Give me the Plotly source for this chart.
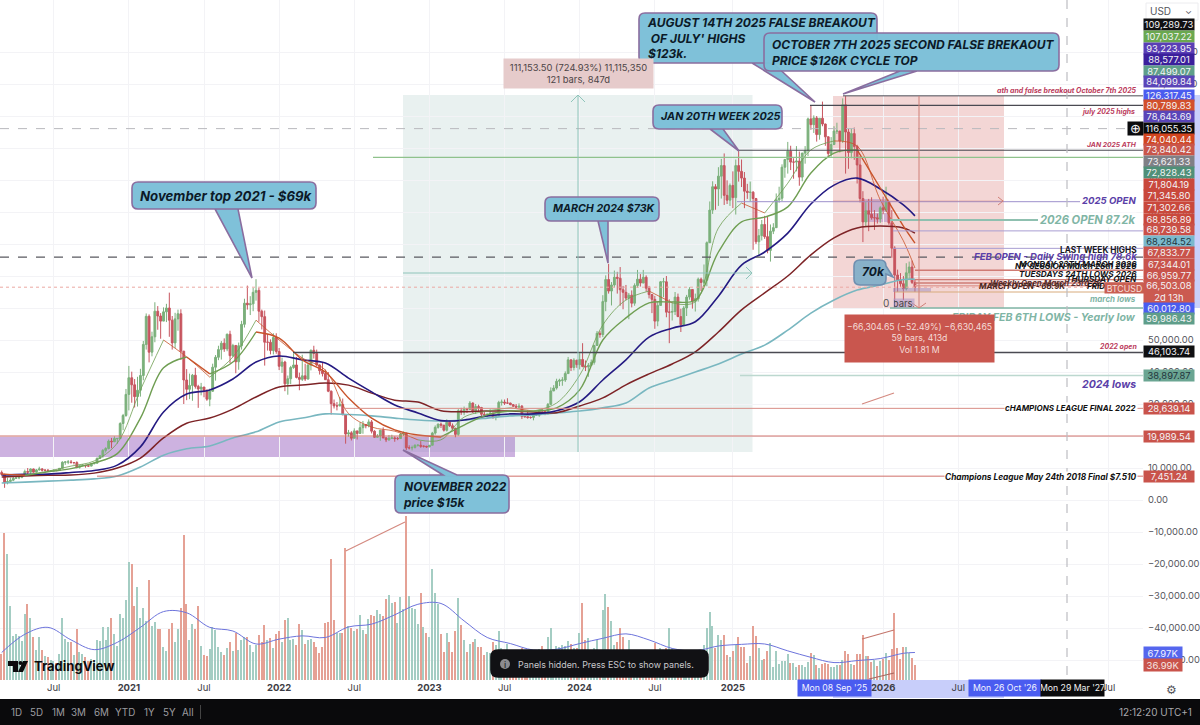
import pandas as pd
import plotly.graph_objects as go

W, H = 1200, 725
PLOT_R, PLOT_B = 1143, 680

# weekly candles in thousands of USD, first week Mon 2 Mar 2020
FIRST_OPEN = 8.6
CLOSES = [
    8.0, 5.4, 5.8, 6.2, 6.8, 6.9, 7.1, 7.7, 8.9, 8.7, 9.7, 8.7, 9.4, 9.7, 9.3, 9.3, 9.0, 9.1, 9.3, 9.2, 9.9, 11.8,
    11.9, 11.9, 11.7, 11.7, 10.3, 10.7, 10.9, 10.7, 10.6, 11.3, 11.5, 13.0, 13.8, 15.5, 16.1, 18.4, 18.2, 19.2, 19.2,
    23.9, 26.4, 33.0,
    38.2, 36.0, 32.3, 34.3, 38.9, 48.6, 57.4, 46.2, 51.0, 59.0, 57.5, 55.9, 58.8, 60.0, 56.2, 49.1, 56.6, 58.2, 46.5,
    37.5, 34.6, 35.8, 39.0, 35.5, 34.7, 35.3, 34.2, 31.5, 34.0, 41.5, 44.6, 47.0, 49.0, 47.2, 51.8, 45.1, 48.3, 43.2,
    48.2, 54.9, 61.5, 61.0, 61.3, 64.9, 65.5, 59.0, 57.3, 49.3, 49.3, 46.7, 50.8, 46.4,
    41.8, 43.1, 36.3, 37.9, 41.4, 42.2, 38.3, 37.7, 38.8, 37.8, 42.2, 46.8, 45.8, 42.2, 40.4, 39.5, 37.6, 34.0, 30.1,
    29.4, 29.4, 29.9, 26.6, 20.6, 21.0, 19.3, 21.6, 20.8, 22.6, 23.6, 23.2, 24.4, 21.5, 19.6, 20.0, 21.8, 19.4, 18.8,
    19.3, 19.4, 19.2, 19.2, 20.6, 20.9, 16.3, 16.3, 16.4, 17.1, 17.1, 16.8, 16.8, 16.6,
    17.1, 20.9, 22.7, 23.7, 23.4, 21.8, 24.3, 23.2, 22.4, 20.5, 27.9, 27.5, 28.4, 28.3, 30.3, 27.6, 29.2, 28.9, 26.8,
    26.7, 26.8, 27.1, 25.8, 26.3, 30.5, 30.6, 30.3, 30.3, 29.8, 29.3, 29.0, 29.3, 26.1, 26.0, 25.8, 25.8, 26.5, 26.5,
    28.0, 27.9, 26.9, 29.9, 34.1, 35.0, 37.1, 37.4, 37.5, 39.5, 43.8, 41.4, 43.7, 42.3,
    43.9, 41.7, 41.6, 42.1, 43.0, 48.3, 52.1, 51.7, 62.0, 68.9, 65.3, 67.2, 69.6, 69.3, 65.7, 64.9, 63.1, 64.0, 61.5,
    67.0, 69.0, 67.8, 69.6, 66.2, 64.2, 62.7, 55.9, 60.8, 68.2, 68.2, 58.7, 58.7, 58.9, 63.4, 57.3, 54.8, 60.0, 63.4,
    65.8, 62.1, 62.9, 69.0, 68.0, 68.7, 80.4, 90.6, 97.9, 97.2, 101.2, 104.5, 95.2, 93.7, 98.3,
    94.5, 104.5, 102.7, 100.6, 96.5, 96.1, 96.2, 94.2, 80.7, 82.6, 86.1, 82.3, 78.0, 84.0, 85.1, 93.8, 94.3, 104.0,
    106.4, 109.0, 105.6, 105.6, 105.9, 100.9, 108.4, 109.2, 119.1, 117.3, 119.4, 114.2, 119.3, 117.5, 113.5, 108.3,
    111.1, 115.3, 115.3, 112.2, 123.5, 115.0, 108.6, 114.5, 110.5, 104.7, 94.2, 86.9, 90.4, 89.3, 88.2, 88.2, 87.8, 91.3,
    90.6, 93.2, 86.6, 78.7, 70.3, 68.8, 67.6, 66.0, 71.0, 72.8, 68.0, 66.5,
]
HIGHS = [
    9.2, 8.2, 7.0, 7.0, 7.3, 7.4, 7.3, 7.8, 9.5, 10.0, 9.9, 9.8, 9.7, 10.4, 10.0, 9.6, 9.7, 9.3, 9.5, 9.3, 10.0, 12.1,
    12.0, 12.5, 12.5, 11.8, 12.1, 10.8, 11.2, 10.9, 10.9, 11.5, 11.7, 13.3, 14.1, 15.9, 16.5, 18.9, 19.4, 19.9, 19.4,
    24.3, 26.9, 34.7,
    41.9, 40.1, 37.8, 38.5, 41.0, 49.7, 58.3, 58.0, 52.6, 61.8, 60.6, 58.4, 60.2, 61.3, 64.8, 57.5, 58.5, 59.5, 59.6,
    46.6, 40.9, 39.5, 39.4, 41.3, 36.0, 36.6, 35.1, 34.6, 34.8, 42.6, 45.3, 48.2, 49.7, 50.5, 52.0, 52.9, 48.8, 48.0,
    49.2, 56.0, 62.9, 67.0, 63.7, 66.3, 69.0, 66.3, 59.5, 59.2, 51.9, 50.2, 52.1, 52.1,
    47.5, 44.5, 43.5, 38.9, 41.9, 45.8, 44.7, 39.8, 45.4, 42.6, 42.4, 47.0, 48.2, 47.0, 42.4, 42.9, 40.8, 40.0, 34.2,
    31.4, 30.6, 32.2, 31.7, 26.9, 21.9, 21.5, 22.4, 21.6, 24.3, 24.7, 23.4, 25.2, 25.0, 21.8, 20.6, 21.9, 22.7, 19.7,
    20.3, 20.4, 19.9, 19.7, 21.0, 21.4, 21.0, 17.1, 17.0, 17.4, 17.4, 18.4, 17.0, 16.9,
    17.2, 21.3, 23.3, 23.9, 24.2, 23.4, 25.2, 25.0, 23.9, 22.6, 28.4, 28.8, 29.2, 28.8, 30.9, 30.5, 30.0, 29.8, 29.1,
    27.6, 27.0, 28.4, 27.3, 26.7, 31.0, 31.4, 31.4, 31.8, 30.4, 30.0, 30.0, 30.2, 29.7, 26.8, 28.1, 26.1, 26.9, 27.5,
    28.0, 28.6, 28.0, 30.3, 35.2, 35.9, 37.9, 37.9, 38.4, 40.2, 44.7, 43.6, 44.3, 43.8,
    45.9, 49.0, 43.6, 42.8, 43.9, 48.5, 52.8, 52.9, 64.0, 70.2, 73.8, 68.1, 71.7, 71.3, 72.8, 66.9, 67.2, 64.7, 65.5,
    67.7, 71.9, 70.6, 71.9, 70.2, 66.9, 63.4, 63.8, 62.0, 68.4, 69.4, 70.0, 62.7, 62.0, 65.0, 64.5, 59.8, 60.6, 64.1,
    66.5, 65.6, 64.5, 69.5, 69.5, 73.6, 80.8, 93.3, 99.6, 98.7, 104.0, 106.6, 108.3, 99.9, 98.9,
    102.7, 106.4, 109.3, 106.4, 102.5, 98.8, 99.5, 96.5, 94.4, 84.7, 87.5, 88.8, 88.5, 86.1, 86.5, 95.8, 97.9, 104.9,
    106.6, 111.9, 110.7, 106.8, 110.6, 108.9, 108.5, 110.6, 119.5, 123.2, 120.2, 120.0, 119.3, 124.5, 117.6, 113.6,
    113.4, 116.8, 117.9, 113.4, 125.5, 126.2, 116.0, 116.1, 116.4, 111.0, 107.5, 96.5, 93.1, 94.1, 94.6, 90.6, 89.5, 91.8,
    94.8, 97.9, 93.4, 90.6, 79.3, 72.0, 70.9, 70.0, 74.0, 74.5, 74.8, 69.0,
]
LOWS = [
    7.6, 3.8, 4.9, 5.7, 5.9, 6.7, 6.5, 6.8, 7.6, 8.1, 8.2, 8.6, 8.6, 9.2, 8.9, 9.0, 8.8, 8.9, 9.0, 9.0, 9.1, 9.9,
    11.0, 11.2, 11.4, 11.1, 9.9, 9.8, 10.6, 10.1, 10.3, 10.5, 11.2, 11.4, 12.8, 13.2, 14.8, 15.8, 16.2, 18.1, 17.6,
    19.0, 21.8, 26.0,
    28.0, 30.4, 28.9, 29.2, 32.3, 37.4, 47.0, 43.0, 44.9, 49.3, 53.2, 50.4, 55.9, 55.6, 51.0, 47.0, 47.5, 52.9, 43.8,
    30.0, 31.2, 31.5, 31.0, 34.8, 28.8, 32.7, 32.1, 31.0, 29.3, 33.8, 37.3, 43.7, 43.9, 46.3, 46.5, 42.8, 44.7, 39.6,
    40.7, 47.0, 53.9, 59.5, 57.8, 59.0, 62.3, 55.7, 53.3, 42.0, 46.7, 45.5, 45.5, 45.7,
    40.6, 39.7, 34.0, 32.9, 36.2, 41.0, 38.0, 34.3, 37.2, 37.2, 37.6, 40.5, 44.2, 41.8, 39.2, 38.6, 37.5, 33.7, 26.7,
    28.6, 28.0, 29.3, 26.6, 17.6, 19.8, 18.6, 19.3, 18.9, 20.7, 20.7, 22.4, 22.7, 20.8, 19.5, 19.5, 18.5, 19.3, 18.1,
    18.5, 19.1, 18.2, 18.7, 19.2, 20.0, 15.6, 15.8, 15.5, 16.1, 16.7, 16.3, 16.4, 16.3,
    16.5, 17.1, 20.4, 22.3, 22.5, 21.4, 21.4, 22.8, 21.9, 19.6, 20.1, 26.6, 26.5, 27.2, 28.2, 27.2, 26.9, 27.7, 25.9,
    26.4, 25.9, 26.6, 25.4, 24.9, 26.2, 29.5, 29.7, 30.0, 29.6, 29.1, 28.6, 28.7, 25.3, 25.8, 25.4, 25.4, 24.9, 26.4,
    26.0, 27.2, 26.5, 26.9, 29.7, 34.0, 34.5, 35.6, 35.7, 36.9, 39.4, 40.3, 40.5, 41.3,
    40.8, 41.5, 40.3, 38.5, 41.9, 42.3, 48.2, 50.7, 50.9, 59.0, 64.5, 60.8, 66.4, 64.5, 60.7, 59.6, 62.4, 56.5, 60.2,
    60.7, 66.3, 66.7, 68.5, 65.1, 63.0, 58.4, 53.5, 54.3, 62.4, 63.4, 57.1, 49.0, 56.1, 57.8, 57.2, 52.5, 54.6, 57.5,
    62.6, 59.8, 58.9, 62.0, 65.3, 67.5, 66.8, 80.3, 89.4, 90.7, 91.9, 94.2, 92.2, 92.5, 91.9,
    91.2, 89.2, 99.5, 97.8, 91.2, 94.1, 93.3, 78.2, 80.0, 76.6, 81.1, 81.6, 77.1, 74.5, 83.1, 85.1, 92.9, 93.4,
    100.7, 102.0, 103.1, 100.4, 102.7, 98.2, 99.6, 105.1, 107.5, 115.7, 114.7, 112.0, 112.6, 116.8, 110.7, 107.3,
    107.3, 110.9, 114.4, 108.6, 111.6, 102.0, 103.5, 106.8, 106.3, 98.9, 93.0, 80.6, 85.5, 84.0, 87.6, 84.4, 86.4, 86.6,
    89.3, 90.1, 86.0, 75.7, 60.0, 65.0, 66.6, 62.5, 65.5, 69.0, 67.5, 65.0,
]
# weekly volume, thousands of BTC
VOLUMES = [
    64, 363, 310, 183, 109, 113, 109, 97, 162, 188, 154, 107, 74, 105, 74, 60, 57, 49, 48, 43,
    64, 154, 101, 95, 93, 62, 125, 68, 64, 56, 48, 52, 48, 99, 97, 130, 98, 131, 152, 113,
    84, 164, 152, 197, 292, 287, 182, 230, 154, 179, 146, 246, 133, 144, 125, 125, 82, 71, 125, 141,
    94, 125, 179, 358, 187, 98, 138, 125, 182, 84, 62, 60, 76, 131, 123, 82, 70, 62, 79, 95,
    72, 117, 74, 98, 105, 107, 87, 70, 87, 111, 95, 136, 98, 103, 80, 113, 121, 95, 149, 152,
    98, 101, 87, 139, 123, 90, 98, 101, 95, 82, 67, 82, 142, 144, 298, 149, 115, 115, 117, 325,
    134, 128, 120, 126, 160, 123, 113, 150, 161, 158, 173, 164, 158, 199, 210, 189, 193, 142, 205, 175,
    405, 207, 177, 175, 139, 214, 131, 117, 107, 275, 216, 187, 113, 70, 115, 93, 70, 120, 202, 136,
    98, 68, 89, 95, 102, 82, 82, 62, 70, 66, 95, 86, 122, 78, 60, 89, 60, 60, 55, 50,
    78, 55, 55, 60, 60, 60, 76, 84, 55, 105, 128, 65, 84, 82, 86, 84, 96, 90, 78, 80,
    115, 189, 99, 104, 70, 80, 99, 70, 173, 212, 181, 146, 86, 95, 128, 107, 70, 99, 70, 65,
    60, 60, 55, 55, 65, 70, 92, 60, 78, 65, 80, 128, 80, 70, 65, 60, 55, 60, 60, 60,
    60, 60, 65, 86, 129, 169, 134, 78, 111, 100, 111, 62, 56, 72, 89, 105, 81, 81, 41, 59,
    133, 109, 78, 49, 52, 71, 92, 33, 72, 40, 48, 47, 63, 41, 43, 33, 36, 36, 31, 44,
    66, 61, 37, 30, 40, 41, 39, 33, 33, 36, 38, 49, 72, 63, 40, 36, 64, 64, 111, 59,
    60, 45, 49, 35, 47, 53, 67, 49, 76, 166, 78, 52, 82, 81, 67, 55, 36,
]
assert len(CLOSES) == len(HIGHS) == len(LOWS) == len(VOLUMES) == 317

# moving averages every eighth week, then the last bar
MA_WEEKS = list(range(0, 317, 8)) + [316]
MA_THIN = [
    8.1, 7.8, 9.0, 10.6, 12.2, 17.8, 34.4, 50.0, 44.7, 38.4, 44.7, 56.2, 50.0, 44.4, 40.6, 27.0, 22.8, 21.5, 18.8, 18.8,
    25.9, 27.8, 28.8, 27.8, 30.3, 39.0, 54.7, 62.5, 65.3, 61.6, 61.9, 85.0, 92.8, 89.7, 99.0, 109.4, 112.2, 110.6, 93.8,
    81.0, 72.5,
]
MA_THICK = [
    8.1, 7.7, 8.8, 9.8, 11.6, 14.5, 25.6, 41.3, 44.7, 39.4, 43.1, 52.5, 50.6, 43.8, 40.0, 31.9, 25.6, 21.9, 20.3, 19.7,
    23.4, 26.6, 27.8, 27.8, 28.8, 34.4, 50.0, 56.9, 61.6, 61.9, 62.5, 77.5, 86.9, 88.4, 91.6, 102.2, 108.4, 109.4, 97.5,
    85.6, 80.3,
]
MA_BLUE = [
    7.8, 8.0, 8.1, 8.6, 9.2, 10.9, 16.6, 27.5, 33.1, 34.4, 37.8, 43.1, 45.0, 43.8, 42.8, 38.1, 33.8, 29.7, 27.2, 24.8,
    25.0, 26.3, 26.9, 26.9, 27.9, 30.7, 37.5, 43.8, 50.9, 53.7, 55.7, 63.7, 73.4, 77.5, 83.4, 92.5, 98.4, 100.6, 97.2,
    92.2, 88.8,
]
MA_RED = [
    7.2, 7.5, 7.7, 7.8, 8.4, 10.0, 13.1, 19.4, 24.0, 25.6, 28.4, 32.2, 35.3, 35.9, 36.6, 35.9, 33.4, 31.2, 30.6, 27.9,
    27.6, 27.8, 27.8, 27.5, 27.3, 29.4, 31.9, 36.0, 39.4, 42.5, 46.3, 52.5, 59.4, 64.7, 70.0, 76.6, 81.9, 85.0, 85.6,
    85.0, 83.4,
]
MA_TEAL = [
    5.3, 5.6, 5.9, 6.2, 6.6, 7.5, 10.3, 14.0, 16.0, 16.9, 19.4, 21.3, 24.4, 25.6, 26.9, 26.7, 26.3, 25.6, 25.0, 24.7,
    25.0, 25.6, 26.3, 26.6, 27.2, 27.8, 28.8, 30.3, 35.0, 37.5, 40.0, 42.5, 45.6, 48.4, 53.1, 58.4, 62.5, 65.6, 67.2,
    68.9, 69.0,
]
VOL_MA = [
    68, 113, 130, 99, 75, 93, 130, 169, 166, 130, 121, 89, 101, 109, 105, 131, 138, 161, 187, 189, 146, 105, 90, 74, 76,
    90, 103, 114, 99, 78, 72, 84, 88, 89, 72, 56, 43, 48, 53, 66, 68,
]

TICK_DATES = [
    "2020-07-06", "2021-01-04", "2021-07-05", "2022-01-03", "2022-07-04", "2023-01-02", "2023-07-03", "2024-01-01",
    "2024-07-01", "2025-01-06", "2026-01-05", "2026-07-06", "2027-07-05",
]
TICK_LABELS = [
    "Jul", "<b>2021</b>", "Jul", "<b>2022</b>", "Jul", "<b>2023</b>", "Jul", "<b>2024</b>", "Jul", "<b>2025</b>",
    "<b>2026</b>", "Jul", "Jul",
]
Y_TICKS = [-50, -40, -30, -20, -10, 0, 10, 20, 30, 40, 50, 60, 70, 80, 90, 100, 110, 120, 130, 140]
Y_LABELS = [
    "−50,000.00", "−40,000.00", "−30,000.00", "−20,000.00", "−10,000.00", "0.00", "10,000.00", "20,000.00", "30,000.00",
    "40,000.00", "50,000.00", "60,000.00", "70,000.00", "80,000.00", "90,000.00", "100,000.00", "110,000.00",
    "120,000.00", "130,000.00", "140,000.00",
]

# drawn horizontal levels: price (k), start pixel on screen, colour, width, dash
LEVEL_PRICES = [126.3, 123.3, 116.06, 109.3, 107.04, 93.22, 87.5, 84.1, 78.64, 75.9, 71.8, 68.86, 67.83, 66.96, 66.5, 65.0, 60.01, 46.1, 38.9, 28.64, 19.99, 7.45]
LEVEL_STARTS = [843, 810, 0, 737, 373, 737, 890, 893, 893, 0, 915, 915, 915, 915, 0, 895, 890, 293, 740, 343, 0, 97]
LEVEL_ENDS = [1143, 1143, 1143, 1143, 1143, 1080, 1038, 1143, 1143, 1143, 1143, 1143, 1143, 1143, 1143, 1143, 1143, 1143, 1143, 1143, 1143, 1143]
LEVEL_COLORS = [
    "#4a4a52", "#4a4a52", "#b9b9bd", "#4a4a52", "#8fc28c", "#9d90cc", "#8fc0b0", "#a89ed2", "#a89ed2", "#5a5a60",
    "#cf7b74", "#cf7b74", "#cf7b74", "#e2a29c", "#eba9a3", "#d8ab7c", "#7fb5a5", "#4a4a52", "#bcd8cf", "#d98d86",
    "#d0706a", "#d0706a",
]
LEVEL_WIDTHS = [1, 1.2, 1, 1, 1.2, 1, 2, 1, 1, 1.3, 1.3, 1.3, 1.5, 1.5, 1, 1, 1.6, 1.3, 1.6, 1, 1, 1]
LEVEL_DASHES = ["solid", "solid", "dash", "solid", "solid", "solid", "solid", "solid", "solid", "dash", "solid", "solid", "solid", "solid", "dot", "solid", "solid", "solid", "solid", "solid", "solid", "solid"]

AXIS_LABELS = [
    "109,289.73", "107,037.22", "93,223.95", "88,577.01", "87,499.07", "84,099.84", "126,317.45", "80,789.83",
    "78,643.69", "116,055.35", "74,040.44", "73,840.42", "73,621.33", "72,828.43", "71,804.19", "71,345.80", "71,302.66",
    "68,856.89", "68,739.58", "68,284.52", "67,833.77", "67,344.01", "66,959.77", "66,503.08<br>2d 13h", "60,012.80",
    "59,986.43", "46,103.74", "38,897.87", "28,639.14", "19,989.54", "7,451.24",
]
AXIS_LABEL_Y = [25, 36, 48, 59, 71, 82, 95, 105, 116, 128, 139, 150, 162, 173, 184, 196, 207, 219, 230, 241, 253, 264, 275, 291.5, 308, 319, 352, 375, 408, 436, 476]
AXIS_LABEL_COLORS = [
    "#101012", "#6aa84f", "#5a3fb5", "#3b1f9c", "#5f9e8a", "#5a45b8", "#4a5cf0", "#d2502c", "#5a45b8", "#0b0b0d", "#d2451f",
    "#c9564b", "#808086", "#4f9078", "#c9483c", "#c9483c", "#c9483c", "#c9483c", "#c95048", "#7ab9cd", "#c9534b",
    "#c9534b", "#c9534b", "#cb5a50", "#4a5cf0", "#5f9e8a", "#101012", "#6aa592", "#c9534b", "#c9534b", "#c9534b",
]

dates = pd.date_range("2020-03-02", periods=len(CLOSES), freq="7D")
opens = [FIRST_OPEN] + CLOSES[:-1]
ma_dates = [dates[i] for i in MA_WEEKS]
px_per_week = 2.89
x_left = dates[0] + pd.Timedelta(days=-1.7 / px_per_week * 7)
x_right = dates[0] + pd.Timedelta(days=(PLOT_R - 1.7) / px_per_week * 7)
k_per_px = 1 / 3.2
vol_per_px = 2.47


def X(x):
    return x / W


def Y(y):
    return 1 - y / H


def rect(x0, y0, x1, y1, fill, line=None, layer="above"):
    return dict(
        type="rect", xref="paper", yref="paper", x0=X(x0), x1=X(x1), y0=Y(y0), y1=Y(y1), fillcolor=fill,
        line=dict(color=line or "rgba(0,0,0,0)", width=1 if line else 0), layer=layer,
    )


def seg(x0, y0, x1, y1, color, width=1, dash="solid"):
    return dict(
        type="line", xref="paper", yref="paper", x0=X(x0), x1=X(x1), y0=Y(y0), y1=Y(y1),
        line=dict(color=color, width=width, dash=dash),
    )


def bubble(x0, y0, x1, y1, side=None, a=0, b=0, tip=(0, 0), fill="rgba(122,190,215,0.96)", line="#8a6d9f", r=6):
    pt = lambda x, y: f"{X(x):.5f},{Y(y):.5f}"
    d = "M" + pt(x0 + r, y0)
    if side == "top":
        d += " L" + pt(a, y0) + " L" + pt(*tip) + " L" + pt(b, y0)
    d += " L" + pt(x1 - r, y0) + " Q" + pt(x1, y0) + " " + pt(x1, y0 + r)
    if side == "right":
        d += " L" + pt(x1, a) + " L" + pt(*tip) + " L" + pt(x1, b)
    d += " L" + pt(x1, y1 - r) + " Q" + pt(x1, y1) + " " + pt(x1 - r, y1)
    if side == "bottom":
        d += " L" + pt(b, y1) + " L" + pt(*tip) + " L" + pt(a, y1)
    d += " L" + pt(x0 + r, y1) + " Q" + pt(x0, y1) + " " + pt(x0, y1 - r)
    d += " L" + pt(x0, y0 + r) + " Q" + pt(x0, y0) + " " + pt(x0 + r, y0) + " Z"
    return dict(type="path", xref="paper", yref="paper", path=d, fillcolor=fill, line=dict(color=line, width=1.6))


def note(text, x, y, size=10, color="#111", anchor="right", bg=None, family="Inter", **kw):
    return dict(
        text=text, x=X(x), y=Y(y), xref="paper", yref="paper", xanchor=anchor, yanchor="middle", showarrow=False,
        font=dict(size=size, color=color, family=family), bgcolor=bg, borderpad=0, **kw,
    )


def falling_rising(values):
    # the two short averages change colour with their direction
    up_x, up_y, down_x, down_y = [], [], [], []
    last = None
    for i in range(len(values) - 1):
        rising = values[i + 1] >= values[i]
        xs, ys = (up_x, up_y) if rising else (down_x, down_y)
        if rising != last:
            xs += [None, ma_dates[i]]
            ys += [None, values[i]]
        xs.append(ma_dates[i + 1])
        ys.append(values[i + 1])
        last = rising
    return up_x, up_y, down_x, down_y


fig = go.Figure()

vol_colors = ["#a4cdc3" if c >= o else "#e5a195" for o, c in zip(opens, CLOSES)]
fig.add_trace(go.Bar(x=dates, y=VOLUMES, marker=dict(color=vol_colors, line_width=0), width=1.0e3 * 3600 * 24 * 3.6, yaxis="y2", hoverinfo="skip"))
fig.add_trace(go.Scatter(x=ma_dates, y=VOL_MA, mode="lines", line=dict(color="#6d74dc", width=1, shape="spline"), yaxis="y2", hoverinfo="skip"))

fig.add_trace(go.Scatter(x=ma_dates, y=MA_TEAL, mode="lines", line=dict(color="#79b7c0", width=1.6, shape="spline"), hoverinfo="skip"))
fig.add_trace(go.Scatter(x=ma_dates, y=MA_RED, mode="lines", line=dict(color="#7d2326", width=1.5, shape="spline"), hoverinfo="skip"))
fig.add_trace(go.Scatter(x=ma_dates, y=MA_BLUE, mode="lines", line=dict(color="#241a82", width=1.6, shape="spline"), hoverinfo="skip"))

for values, width in ((MA_THIN, 0.8), (MA_THICK, 1.4)):
    up_x, up_y, down_x, down_y = falling_rising(values)
    fig.add_trace(go.Scatter(x=up_x, y=up_y, mode="lines", line=dict(color="#6f9e52", width=width, shape="spline"), hoverinfo="skip"))
    fig.add_trace(go.Scatter(x=down_x, y=down_y, mode="lines", line=dict(color="#c8532a", width=width, shape="spline"), hoverinfo="skip"))

fig.add_trace(
    go.Candlestick(
        x=dates, open=opens, high=HIGHS, low=LOWS, close=CLOSES,
        increasing=dict(line=dict(color="#7bb07b", width=1), fillcolor="#7bb07b"),
        decreasing=dict(line=dict(color="#c7555f", width=1), fillcolor="#c7555f"),
        whiskerwidth=0, hoverinfo="skip",
    )
)

shapes = [
    rect(403, 95, 752.5, 452, "rgba(0,95,85,0.085)", layer="below"),
    rect(833, 96, 1004, 308, "rgba(205,85,80,0.24)", layer="below"),
    rect(862, 199, 889, 222, "rgba(140,100,190,0.35)", layer="below"),
    rect(0, 437, 515, 457, "rgba(150,95,190,0.48)", layer="below"),
    rect(833, 680, 1004, 698, "#c8cefa", layer="below"),
    rect(893, 288, 931, 292, "rgba(150,135,190,0.45)"),
]
for price, start, end, color, width, dash in zip(LEVEL_PRICES, LEVEL_STARTS, LEVEL_ENDS, LEVEL_COLORS, LEVEL_WIDTHS, LEVEL_DASHES):
    shapes.append(dict(type="line", xref="paper", yref="y", x0=X(start), x1=X(end), y0=price, y1=price, line=dict(color=color, width=width, dash=dash)))

shapes += [
    seg(1067, 0, 1067, PLOT_B, "#bdbdc2", 1.2, "dash"),
    seg(403, 273, 752, 273, "#8fc4ba", 1),
    seg(746, 267, 752, 273, "#8fc4ba", 1),
    seg(746, 279, 752, 273, "#8fc4ba", 1),
    seg(578, 452, 578, 95, "#8fc4ba", 1),
    seg(571, 102, 578, 95, "#8fc4ba", 1),
    seg(585, 102, 578, 95, "#8fc4ba", 1),
    seg(919, 96, 919, 308, "#cf8078", 1),
    seg(912, 303, 919, 308, "#cf8078", 1),
    seg(926, 303, 919, 308, "#cf8078", 1),
    seg(833, 201, 1004, 201, "rgba(205,100,90,0.35)", 1),
    seg(998, 197, 1003, 201, "#cf8078", 1),
    seg(998, 205, 1003, 201, "#cf8078", 1),
    seg(345.7, 551, 405, 522, "#d48a80", 1.2),
    seg(862, 404, 894, 393, "#d48a80", 1.2),
    seg(862, 639, 894, 630, "#c4766c", 1.2),
    seg(869, 679, 894, 673, "#a8675e", 1.2),
    bubble(132, 182, 316, 209, "bottom", 238, 215, (252, 278)),
    bubble(545, 197, 659, 221, "bottom", 608, 598, (608, 263)),
    bubble(653, 105, 782, 129, "bottom", 723, 710, (739, 151)),
    bubble(639, 13, 877, 63, "bottom", 773, 752, (815, 102)),
    bubble(764, 33, 1059, 71, "bottom", 917, 900, (843, 94)),
    bubble(395, 475, 509, 513, "top", 443, 457, (403, 450)),
    bubble(854, 260, 886, 285, "right", 266, 274, (893, 277), fill="rgba(130,175,200,0.95)", line="#6f8fb0"),
    # right hand highlight and bottom toolbar
    rect(1193, 95, 1200, 308, "#c9d0fb"),
    rect(0, 699, W, H, "#0a0a0c"),
    seg(200.5, 705, 200.5, 719, "#444", 1),
    rect(1146, 3, 1198, 20, "#ffffff", "#ececef"),
    # tradingview mark
    dict(type="path", xref="paper", yref="paper", fillcolor="#0b0b0d", line_width=0,
         path="M{},{} L{},{} L{},{} L{},{} L{},{} L{},{} Z".format(X(8), Y(661), X(18), Y(661), X(18), Y(672), X(13), Y(672), X(13), Y(666), X(8), Y(666))),
    dict(type="circle", xref="paper", yref="paper", x0=X(18.5), x1=X(22.5), y0=Y(661), y1=Y(665), fillcolor="#0b0b0d", line_width=0),
    dict(type="path", xref="paper", yref="paper", fillcolor="#0b0b0d", line_width=0,
         path="M{},{} L{},{} L{},{} L{},{} Z".format(X(23), Y(661), X(28), Y(661), X(23), Y(672), X(18), Y(672))),
    bubble(491, 650, 708, 677, fill="#111114", line="#111114", r=7),
    dict(type="circle", xref="paper", yref="paper", x0=X(500), x1=X(510), y0=Y(659), y1=Y(669), fillcolor="#8c8c90", line_width=0),
]

CALLOUT = "#0c1a28"
PURPLE = "#5b3fa8"
TEAL = "#7fb5a5"
CRIMSON = "#bb3b5c"
annotations = [
    note("<b><i>November top 2021 - $69k</i></b>", 139, 196, 13.2, CALLOUT, "left"),
    note("<b><i>MARCH 2024 $73K</i></b>", 552, 209, 10.7, CALLOUT, "left"),
    note("<b><i>JAN 20TH WEEK 2025</i></b>", 660, 117, 10.8, CALLOUT, "left"),
    note("<b><i>AUGUST 14TH 2025 FALSE BREAKOUT<br> OF JULY' HIGHS<br>$123k.</i></b>", 646, 38, 12, CALLOUT, "left", align="left"),
    note("<b><i>OCTOBER 7TH 2025 SECOND FALSE BREKAOUT<br>PRICE $126K CYCLE TOP</i></b>", 771, 52, 12, CALLOUT, "left", align="left"),
    note("<b><i>NOVEMBER 2022<br>price $15k</i></b>", 402, 494, 12, CALLOUT, "left", align="left"),
    note("<b><i>70k</i></b>", 861, 272, 12, CALLOUT, "left"),
    note("<b><i>ath and false breakout October 7th 2025</i></b>", 1138, 90, 7, CRIMSON),
    note("<b><i>july 2025 highs</i></b>", 1136, 112, 6.9, CRIMSON),
    note("<b><i>JAN 2025 ATH</i></b>", 1138, 145, 6.8, CRIMSON),
    note("<b><i>2025 OPEN</i></b>", 1137, 201, 9.6, PURPLE, bg="#ffffff"),
    note("<b><i>2026 OPEN 87.2k</i></b>", 1137, 220, 11.2, TEAL, bg="#ffffff"),
    note("<b>LAST WEEK HIGHS</b>", 1138, 250, 8.3, "#1a1a1e"),
    note("<b><i>FEB OPEN - Daily Swing high 78.6k</i></b>", 1138, 257, 9.6, PURPLE),
    note("<b><i>MONDAY 23TH MARCH 2026</i></b>", 1138, 264, 8.2, "#141418"),
    note("<b><i>NY SESSION March 26th 2026</i></b>", 1138, 266, 8.2, "#141418"),
    note("<b><i>TUESDAYS 24TH LOWS 2026</i></b>", 1138, 274, 8.2, "#141418"),
    note("<b><i>THURSDAY OPEN</i></b>", 1138, 279, 8.2, "#141418"),
    note("<b><i>Weekly Open March 23rd 26</i></b>", 1103, 283, 8, "#5a3030"),
    note("<b><i>MARCH OPEN - 68.9K</i></b>", 1067, 286, 8, "#4a2620"),
    note("<b><i>FRIDAY</i></b>", 1118, 286, 8, "#141418"),
    note("<b><i>march lows</i></b>", 1137, 299, 8, TEAL),
    note("<b><i>FRIDAY FEB 6TH LOWS - Yearly low</i></b>", 1137, 317, 10.6, TEAL),
    note("<b><i>2022 open</i></b>", 1138, 347, 7, CRIMSON),
    note("<b><i>2024 lows</i></b>", 1137, 385, 10.6, PURPLE),
    note("<b><i>cHAMPIONS LEAGUE FINAL 2022</i></b>", 1138, 408.5, 8, "#111", bg="#ffffff"),
    note("<b><i>Champions League May 24th 2018 Final $7.510</i></b>", 1138, 476.5, 8.3, "#111", bg="#ffffff"),
    note("BTCUSD", 1104, 288, 8.8, "#f7dfdb", "left", bg="#c95f52", width=39, height=10),
    note("111,153.50 (724.93%) 11,115,350<br>121 bars, 847d", 503, 73.5, 9.4, "#4c4446", "left", bg="#e6cbcb", width=149, height=29),
    note("−66,304.65 (−52.49%) −6,630,465<br>59 bars, 413d<br>Vol 1.81 M", 844, 338.5, 8.7, "#f5dcd8", "left", bg="#c9564e", width=149, height=47),
    note("0", 890, 303, 10, "#555"),
    note("bars,", 893, 303, 9.5, "#444", "left", bg="rgba(170,150,200,0.55)", width=20, height=8),
    note("<b>TradingView</b>", 33, 666, 13, "#0b0b0d", "left"),
    note("i", 505, 664, 9, "#111114", "center"),
    note("Panels hidden. Press ESC to show panels.", 517, 664, 8.9, "#c8c8cc", "left"),
    note("USD", 1149, 11.5, 10, "#55555c", "left"),
    note("⌄", 1193, 10, 9, "#55555c"),
    note("⊕", 1135.5, 128, 13, "#ffffff", "center", bg="#0b0b0d", width=15, height=13, family="DejaVu Sans"),
    note("Mon 08 Sep '25", 797, 688, 8.7, "#f2f3ff", "left", bg="#4a5cf0", width=73, height=16),
    note("Mon 26 Oct '26", 968, 688, 8.7, "#f2f3ff", "left", bg="#4a5cf0", width=72, height=16),
    note("Mon 29 Mar '27", 1040, 688, 8.7, "#f2f2f2", "left", bg="#0b0b0d", width=63, height=16),
    note("⚙", 1171, 690, 12, "#55555c", "center", family="DejaVu Sans"),
    note("67.97K", 1143, 653, 9.5, "#f2f3ff", "left", bg="#5566ee", width=38, height=12),
    note("36.99K", 1143, 665, 9.5, "#f5e5e2", "left", bg="#c9534b", width=38, height=12),
    note("12:12:20 UTC+1", 1193, 712, 10, "#a8a8ac"),
]
for label, x in zip(["1D", "5D", "1M", "3M", "6M", "YTD", "1Y", "5Y", "All"], [16, 36, 58, 79, 101, 125, 149, 169, 188]):
    annotations.append(note(label, x, 712, 9.8, "#9c9ca0", "center"))
for label, y, color in zip(AXIS_LABELS, AXIS_LABEL_Y, AXIS_LABEL_COLORS):
    tall = "<br>" in label
    text_color = "#22343c" if color in ("#7ab9cd", "#6aa592") else "#f4f4f6"
    annotations.append(note(label, 1143, y, 9.4, text_color, "left", bg=color, width=50, height=23 if tall else 11.4))

fig.update_layout(
    width=W,
    height=H,
    autosize=False,
    margin=dict(l=0, r=0, t=0, b=0),
    paper_bgcolor="#ffffff",
    plot_bgcolor="#ffffff",
    showlegend=False,
    bargap=0,
    boxgap=0.1,
    font=dict(family="Inter", size=10, color="#3c3c44"),
    shapes=shapes,
    annotations=annotations,
    xaxis=dict(
        domain=[0, PLOT_R / W], range=[x_left, x_right], type="date", rangeslider=dict(visible=False),
        tickvals=TICK_DATES, ticktext=TICK_LABELS, gridcolor="#f3f3f6", gridwidth=1, showline=False, ticks="",
        tickfont=dict(size=9.5, color="#3c3c44"), zeroline=False,
    ),
    yaxis=dict(
        domain=[1 - PLOT_B / H, 1], range=[(500 - PLOT_B) * k_per_px, 500 * k_per_px], side="right", tickvals=Y_TICKS,
        ticktext=Y_LABELS, gridcolor="#f3f3f6", gridwidth=1, showline=False, zeroline=False, ticks="",
        tickfont=dict(size=9.4, color="#55555c"), ticklabelstandoff=4,
    ),
    yaxis2=dict(
        domain=[1 - PLOT_B / H, 1], range=[0, PLOT_B * vol_per_px], overlaying="y", showgrid=False, zeroline=False,
        showticklabels=False,
    ),
)

fig.write_html(
    "out.html",
    config={"displayModeBar": False},
    post_script="document.body.style.margin='0';document.body.style.overflow='hidden';",
)
